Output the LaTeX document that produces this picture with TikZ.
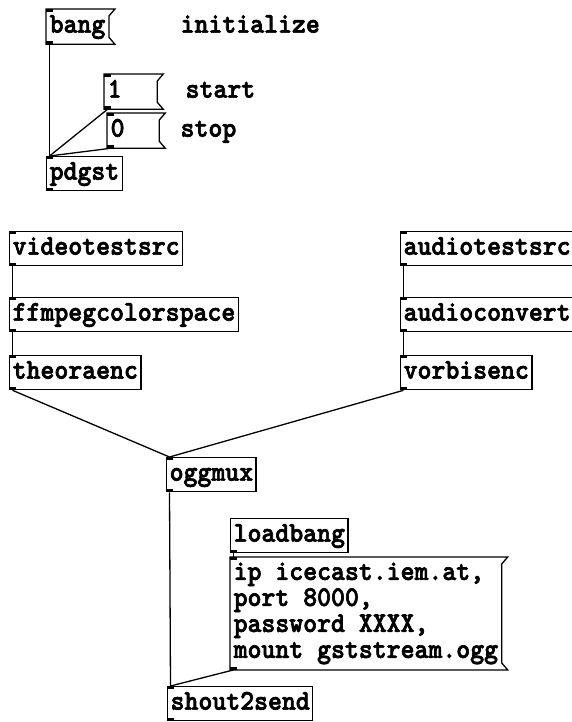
\documentclass[tikz,border=0pt]{standalone}
\usepackage{fontspec}
\newfontfamily\pdfont[Extension=.otf, FakeStretch=0.93, FakeBold=2.2]{lmmonolt10-bold}
\usetikzlibrary{positioning}
\tikzset{
    x=1pt, y=-1pt,
    every node/.style={font=\pdfont\fontsize{28.5}{26}\selectfont},
    pdbox/.style={ % common to all boxes of the patch
        anchor=north west,
        inner xsep=3pt,
        line width=1.3pt
    },
    oneline/.style={inner ysep=6pt, text height=17pt, text depth=5pt},
    obj/.style={pdbox, oneline, draw},
    msg/.style={pdbox, oneline},
    comment/.style={pdbox, oneline},
    cord/.style={line width=1.3pt},
    flag/.style={line width=1.3pt}
}
\begin{document}
\begin{tikzpicture}
    \useasboundingbox (0,0) rectangle (572,722);

    % control section
    \node[msg] (bang) at (46,9) {bang};
    \node[comment] (initialize) at (177,9) {initialize};
    \node[msg, text width=46pt] (one) at (104,74) {1};
    \node[comment] (start) at (182,74) {start};
    \node[msg, text width=45pt] (zero) at (107,113) {0};
    \node[comment] (stop) at (177,113) {stop};
    \node[obj] (pdgst) at (46,156) {pdgst};

    % video chain
    \node[obj] (vts) at (9,231) {videotestsrc};
    \node[obj] (ffcs) at (9,297) {ffmpegcolorspace};
    \node[obj] (theora) at (9,355) {theoraenc};

    % audio chain
    \node[obj] (ats) at (400,231) {audiotestsrc};
    \node[obj] (aconv) at (400,297) {audioconvert};
    \node[obj] (vorbis) at (400,355) {vorbisenc};

    % muxing and streaming
    \node[obj] (oggmux) at (166,457) {oggmux};
    \node[obj] (loadbang) at (230,518) {loadbang};
    \node[pdbox, align=left, inner ysep=5pt] (server) at (230,557)
        {ip icecast.iem.at,\\port 8000,\\password XXXX,\\mount gststream.ogg};
    \node[obj] (shout) at (167,686) {shout2send};

    % message box outlines
    \foreach \m in {bang,one,zero,server}
        \draw[flag] (\m.north west) -- ([xshift=6pt]\m.north east)
            -- ([yshift=-7pt]\m.north east) -- ([yshift=7pt]\m.south east)
            -- ([xshift=6pt]\m.south east) -- (\m.south west) -- cycle;

    % inlets and outlets
    \foreach \n in {bang,one,zero,pdgst,vts,ffcs,theora,ats,aconv,vorbis,oggmux,server,shout}
        \fill (\n.north west) rectangle ([xshift=7pt,yshift=-3pt]\n.north west);
    \foreach \n in {bang,one,zero,pdgst,vts,ffcs,theora,ats,aconv,vorbis,oggmux,loadbang,server,shout}
        \fill (\n.south west) rectangle ([xshift=7pt,yshift=3pt]\n.south west);

    % connections
    \draw[cord] ([xshift=3.5pt]bang.south west) -- ([xshift=3.5pt]pdgst.north west);
    \draw[cord] ([xshift=3.5pt]one.south west) -- ([xshift=3.5pt]pdgst.north west);
    \draw[cord] ([xshift=3.5pt]zero.south west) -- ([xshift=3.5pt]pdgst.north west);
    \draw[cord] ([xshift=3.5pt]vts.south west) -- ([xshift=3.5pt]ffcs.north west);
    \draw[cord] ([xshift=3.5pt]ffcs.south west) -- ([xshift=3.5pt]theora.north west);
    \draw[cord] ([xshift=3.5pt]ats.south west) -- ([xshift=3.5pt]aconv.north west);
    \draw[cord] ([xshift=3.5pt]aconv.south west) -- ([xshift=3.5pt]vorbis.north west);
    \draw[cord] ([xshift=3.5pt]theora.south west) -- ([xshift=3.5pt]oggmux.north west);
    \draw[cord] ([xshift=3.5pt]vorbis.south west) -- ([xshift=3.5pt]oggmux.north west);
    \draw[cord] ([xshift=3.5pt]oggmux.south west) -- ([xshift=3.5pt]shout.north west);
    \draw[cord] ([xshift=3.5pt]loadbang.south west) -- ([xshift=3.5pt]server.north west);
    \draw[cord] ([xshift=3.5pt]server.south west) -- ([xshift=3.5pt]shout.north west);
\end{tikzpicture}
\end{document}
